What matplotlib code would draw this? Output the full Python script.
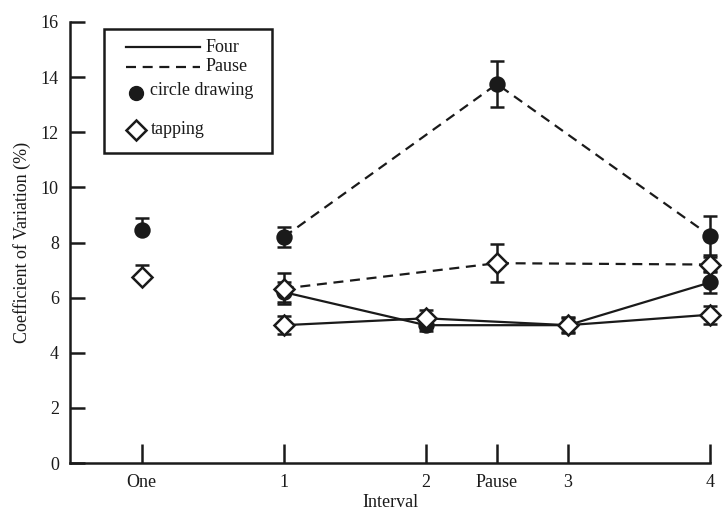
import matplotlib
matplotlib.use("Agg")
from matplotlib import pyplot as plt
from matplotlib.patches import Rectangle
from matplotlib.lines import Line2D

INK = "#1a1a1a"

# x axis categories
x_labels = ["One", "1", "2", "Pause", "3", "4"]
x_pos = [0, 1, 2, 2.5, 3, 4]

# single interval condition ("One"), error bars only drawn upward
one_x = [0]
one_circle = [8.45]
one_circle_err = [[0], [0.45]]
one_tap = [6.75]
one_tap_err = [[0], [0.45]]

# "Four" condition (solid lines)
four_x = [1, 2, 3, 4]
four_circle = [6.2, 5.0, 5.0, 6.55]
four_circle_err = [0.35, 0.2, 0.3, 0.4]
four_tap = [5.0, 5.25, 5.0, 5.38]
four_tap_err = [0.32, 0.3, 0.25, 0.33]

# "Pause" condition (dashed lines)
pause_x = [1, 2.5, 4]
pause_circle = [8.2, 13.75, 8.25]
pause_circle_err = [0.35, 0.85, 0.7]
pause_tap = [6.33, 7.25, 7.2]
pause_tap_err = [0.55, 0.68, 0.27]

plt.rcParams["font.family"] = ["Liberation Serif", "DejaVu Serif"]

fig = plt.figure(figsize=(7.25, 5.19), dpi=100)
ax = fig.add_axes([70 / 725, 56 / 519, 640 / 725, 441 / 519])

DASH = (0, (4.5, 3))


def series(x, y, err, marker, ls):
    face = INK if marker == "o" else "white"
    ms = 10 if marker == "o" else 10.5
    ax.errorbar(x, y, yerr=err, fmt="none", ecolor=INK, elinewidth=1.8,
                capsize=5, capthick=1.8, clip_on=False, zorder=2)
    ax.plot(x, y, color=INK, lw=1.6, ls=ls, marker=marker, ms=ms,
            mfc=face, mec=INK, mew=1.8, clip_on=False, zorder=3)


series(one_x, one_circle, one_circle_err, "o", "none")
series(one_x, one_tap, one_tap_err, "D", "none")
series(four_x, four_circle, four_circle_err, "o", "-")
series(four_x, four_tap, four_tap_err, "D", "-")
series(pause_x, pause_circle, pause_circle_err, "o", DASH)
series(pause_x, pause_tap, pause_tap_err, "D", DASH)

ax.set_xlim(-0.505, 4.0)
ax.set_ylim(0, 16)
ax.set_xticks(x_pos)
ax.set_xticklabels(x_labels)
ax.set_yticks(range(0, 17, 2))
ax.tick_params(axis="x", direction="in", length=14, width=1.8, colors=INK,
               labelsize=13, pad=8)
ax.tick_params(axis="y", direction="in", length=11, width=1.8, colors=INK,
               labelsize=13, pad=8)
for s in ["top", "right"]:
    ax.spines[s].set_visible(False)
for s in ["left", "bottom"]:
    ax.spines[s].set_linewidth(1.8)
    ax.spines[s].set_color(INK)

ax.set_xlabel("Interval", fontsize=13, color=INK, labelpad=2)
ax.set_ylabel("Coefficient of Variation (%)", fontsize=13, color=INK, labelpad=7)

# hand-made legend box, as in the original figure
tr = ax.transAxes
ax.add_patch(Rectangle((0.053, 0.702), 0.263, 0.283, transform=tr, fill=False,
                       lw=1.8, ec=INK, clip_on=False))
ax.add_line(Line2D([0.088, 0.203], [0.943], transform=tr, color=INK, lw=1.6))
ax.add_line(Line2D([0.088, 0.203], [0.898], transform=tr, color=INK, lw=1.6, ls=DASH))
ax.plot([0.103], [0.838], transform=tr, marker="o", ms=10, color=INK, ls="none")
ax.plot([0.103], [0.754], transform=tr, marker="D", ms=10.5, mfc="white",
        mec=INK, mew=1.8, ls="none")
ax.text(0.212, 0.943, "Four", transform=tr, va="center", fontsize=13, color=INK)
ax.text(0.212, 0.898, "Pause", transform=tr, va="center", fontsize=13, color=INK)
ax.text(0.125, 0.845, "circle drawing", transform=tr, va="center", fontsize=13, color=INK)
ax.text(0.126, 0.756, "tapping", transform=tr, va="center", fontsize=13, color=INK)

fig.savefig("out.png", dpi=100)
